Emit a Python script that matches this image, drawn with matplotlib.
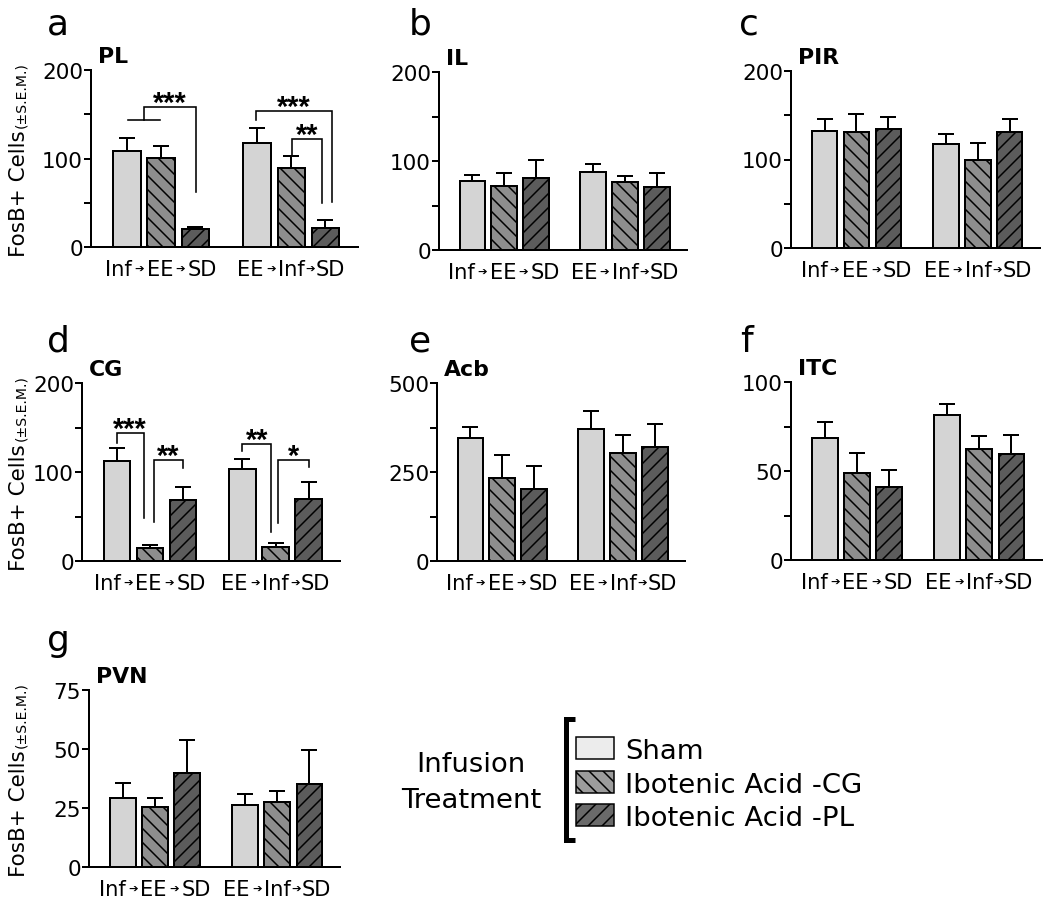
import re
import matplotlib
matplotlib.use("Agg")
import numpy as np
import matplotlib.pyplot as plt
from matplotlib.transforms import IdentityTransform
from matplotlib.offsetbox import TextArea, HPacker, AnnotationBbox, DrawingArea
from matplotlib.patches import Rectangle

W, H, DPI = 1050, 900, 84


def P(px):
    return px * 72.0 / DPI


plt.rcParams['font.family'] = ['DejaVu Sans']
plt.rcParams['hatch.linewidth'] = P(1.5)

# ---------------- data ----------------
group_labels = ["Inf ➔ EE ➔ SD", "EE ➔ Inf➔SD"]
treatments = ["Sham", "Ibotenic Acid -CG", "Ibotenic Acid -PL"]
legend_title = ["Infusion", "Treatment"]
ylabel_main = "FosB+ Cells"
ylabel_small = "(±S.E.M.)"

panel_letters = ["a", "b", "c", "d", "e", "f", "g"]
regions = ["PL", "IL", "PIR", "CG", "Acb", "ITC", "PVN"]

# order: Inf->EE->SD (Sham, CG, PL), EE->Inf->SD (Sham, CG, PL)
pl_mean = [108, 101, 20, 117, 89, 22]
pl_sem = [15, 13, 3, 18, 14, 9]
il_mean = [77.5, 71.5, 80.5, 88, 76.5, 70.5]
il_sem = [6.5, 15.5, 20.5, 9, 6.5, 15.5]
pir_mean = [132.5, 131, 135, 117, 100, 131]
pir_sem = [13, 20, 12.5, 11.5, 18.5, 15]
cg_mean = [112, 14.5, 68, 103, 15.5, 70]
cg_sem = [15, 3, 15.5, 12, 5, 19]
acb_mean = [345, 232, 202, 371, 302, 321]
acb_sem = [31, 65, 66, 50, 51, 63]
itc_mean = [68.7, 48.9, 40.8, 81.5, 62.4, 59.7]
itc_sem = [9, 11, 9.5, 6, 7, 10.5]
pvn_mean = [29.3, 25.4, 39.8, 26.4, 27.6, 35.2]
pvn_sem = [6.2, 3.8, 14.1, 4.6, 4.8, 14.4]

yticks_200 = [0, 50, 100, 150, 200]
yticklabels_200 = ["0", "", "100", "", "200"]
yticks_acb = [0, 125, 250, 375, 500]
yticklabels_acb = ["0", "", "250", "", "500"]
yticks_itc = [0, 25, 50, 75, 100]
yticklabels_itc = ["0", "", "50", "", "100"]
yticks_pvn = [0, 25, 50, 75]
yticklabels_pvn = ["0", "25", "50", "75"]

# significance brackets: (x_left, x_right, y_left_end, y_right_end, y_top, label)
pl_brackets = [(0.5, 2.02, 143, 62, 158, "***"),
               (3.77, 5.99, 143, 51, 154, "***"),
               (4.82, 5.70, 103, 50, 122, "**")]
pl_underlines = [(0.02, 0.98, 143)]
cg_brackets = [(0.0, 0.82, 133, 48, 144, "***"),
               (1.14, 2.0, 44, 104, 113, "**"),
               (3.8, 4.67, 124, 33, 131, "**"),
               (4.89, 5.8, 43, 106, 114, "*")]

# ---------------- layout / style ----------------
xpos = [0, 1, 2, 3.8, 4.8, 5.8]
group_centers = [1, 4.8]
bar_width = 0.8
bar_colors = ['#d4d4d4', '#8e8e8e', '#5c5c5c']
legend_colors = ['#ececec', '#9c9c9c', '#6a6a6a']
hatches = ['', '\\\\', '//']

panels = [
    dict(mean=pl_mean, sem=pl_sem, ymax=200, ticks=yticks_200, tl=yticklabels_200,
         rect=(91, 71, 358, 248), br=pl_brackets, ul=pl_underlines, ylab=True),
    dict(mean=il_mean, sem=il_sem, ymax=200, ticks=yticks_200, tl=yticklabels_200,
         rect=(439, 73, 687, 251), br=[], ul=[], ylab=False),
    dict(mean=pir_mean, sem=pir_sem, ymax=200, ticks=yticks_200, tl=yticklabels_200,
         rect=(791, 72, 1040, 249), br=[], ul=[], ylab=False),
    dict(mean=cg_mean, sem=cg_sem, ymax=200, ticks=yticks_200, tl=yticklabels_200,
         rect=(82, 384, 340, 562), br=cg_brackets, ul=[], ylab=True),
    dict(mean=acb_mean, sem=acb_sem, ymax=500, ticks=yticks_acb, tl=yticklabels_acb,
         rect=(437, 384, 685, 562), br=[], ul=[], ylab=False),
    dict(mean=itc_mean, sem=itc_sem, ymax=100, ticks=yticks_itc, tl=yticklabels_itc,
         rect=(791, 383, 1042, 561), br=[], ul=[], ylab=False),
    dict(mean=pvn_mean, sem=pvn_sem, ymax=75, ticks=yticks_pvn, tl=yticklabels_pvn,
         rect=(89, 691, 340, 868), br=[], ul=[], ylab=True),
]
letter_pos = [(47, 35), (409, 35), (739, 35), (47, 352), (409, 352), (740, 352), (47, 651)]

fig = plt.figure(figsize=(W / DPI, H / DPI), dpi=DPI)
fig.patch.set_facecolor('white')


def group_label(ax, x, label):
    tokens = re.split(r'(\s*➔\s*)', label)
    children = []
    for tok in tokens:
        if '➔' in tok:
            gl = 2.5 if tok.startswith(' ') else 0.8
            gr = 2.5 if tok.endswith(' ') else 0.8
            children.append(DrawingArea(P(gl), 0))
            children.append(TextArea("➔", textprops=dict(fontsize=P(11.5), color='black')))
            children.append(DrawingArea(P(gr), 0))
        elif tok:
            children.append(TextArea(tok, textprops=dict(fontsize=P(21), color='black')))
    pack = HPacker(children=children, align="center", pad=0, sep=0)
    ab = AnnotationBbox(pack, (x, 0), xycoords=('data', 'axes fraction'),
                        xybox=(0, -P(12)), boxcoords='offset points',
                        box_alignment=(0.5, 1), frameon=False, pad=0,
                        annotation_clip=False)
    ax.add_artist(ab)


ylab_items = []
for i, pnl in enumerate(panels):
    l, t, r, b = pnl['rect']
    ax = fig.add_axes([l / W, 1 - b / H, (r - l) / W, (b - t) / H])
    ax.patch.set_alpha(0)
    mean = pnl['mean']
    sem = pnl['sem']
    for j in range(6):
        tr = j % 3
        ax.bar(xpos[j], mean[j], width=bar_width, color=bar_colors[tr],
               edgecolor='black', linewidth=P(2), hatch=hatches[tr], zorder=3)
    ax.errorbar(xpos, mean, yerr=[np.zeros(6), sem], fmt='none', ecolor='black',
                elinewidth=P(2), capsize=P(8), capthick=P(2), zorder=2)
    ax.set_xlim(-1.05, 6.75)
    ax.set_ylim(0, pnl['ymax'])
    ax.set_xticks([])
    ax.set_yticks(pnl['ticks'])
    ax.set_yticklabels(pnl['tl'])
    ax.tick_params(axis='y', direction='out', length=P(7), width=P(2), pad=P(1),
                   labelsize=P(21.5), colors='black')
    for s in ['top', 'right']:
        ax.spines[s].set_visible(False)
    for s in ['left', 'bottom']:
        ax.spines[s].set_linewidth(P(2))
        ax.spines[s].set_color('black')
    for gc, gl in zip(group_centers, group_labels):
        group_label(ax, gc, gl)
    ax.annotate(regions[i], xy=(0, 1), xycoords='axes fraction', xytext=(P(7), P(8)),
                textcoords='offset points', ha='left', va='baseline',
                fontsize=P(22), fontweight='bold', annotation_clip=False)
    for (x0, x1, y) in pnl['ul']:
        ax.plot([x0, x1], [y, y], color='black', lw=P(1.6), zorder=4, clip_on=False)
    for (xl, xr, yl, yr, top, lab) in pnl['br']:
        ax.plot([xl, xl, xr, xr], [yl, top, top, yr], color='black', lw=P(1.6),
                solid_joinstyle='miter', zorder=4, clip_on=False)
        ax.annotate(lab, xy=((xl + xr) / 2, top), xytext=(0, -P(4)),
                    textcoords='offset points', ha='center', va='baseline',
                    fontsize=P(29), fontweight='bold', family='Liberation Sans',
                    annotation_clip=False)
    lx, ly = letter_pos[i]
    fig.text(lx, H - ly, panel_letters[i], transform=IdentityTransform(),
             ha='left', va='baseline', fontsize=P(36))
    if pnl['ylab']:
        t1 = fig.text(0, 0, ylabel_main, transform=IdentityTransform(), rotation=90,
                      rotation_mode='anchor', ha='left', va='baseline', fontsize=P(21.5))
        t2 = fig.text(0, 0, ylabel_small, transform=IdentityTransform(), rotation=90,
                      rotation_mode='anchor', ha='left', va='baseline', fontsize=P(14))
        ylab_items.append(((t + b) / 2, t1, t2))

# ---------------- legend ----------------
lax = fig.add_axes([0, 0, 1, 1])
lax.set_xlim(0, W)
lax.set_ylim(H, 0)
lax.axis('off')
lax.patch.set_alpha(0)
patch_tops = [738, 772, 805]
for k, name in enumerate(treatments):
    lax.add_patch(Rectangle((576, patch_tops[k]), 38, 22, facecolor=legend_colors[k],
                            edgecolor='black', linewidth=P(1.5), hatch=hatches[k]))
    lax.text(625, patch_tops[k] + 11 + 10, name, ha='left', va='baseline',
             fontsize=P(27.5))
lax.plot([575, 565.5, 565.5, 575], [720, 720, 841, 841], color='black', lw=P(5),
         solid_joinstyle='miter', solid_capstyle='butt')
lax.text(471, 772, legend_title[0], ha='center', va='baseline', fontsize=P(27.5))
lax.text(471, 808, legend_title[1], ha='center', va='baseline', fontsize=P(27.5))

# position y-labels (two sizes) centred on their axes
fig.canvas.draw()
rend = fig.canvas.get_renderer()
for cy, t1, t2 in ylab_items:
    L1 = t1.get_window_extent(rend).height
    L2 = t2.get_window_extent(rend).height
    gap = 3
    total = L1 + gap + L2
    start = cy + total / 2
    t1.set_position((25, H - start))
    t2.set_position((25, H - start + L1 + gap))

fig.savefig("out.png", dpi=DPI, facecolor='white')
